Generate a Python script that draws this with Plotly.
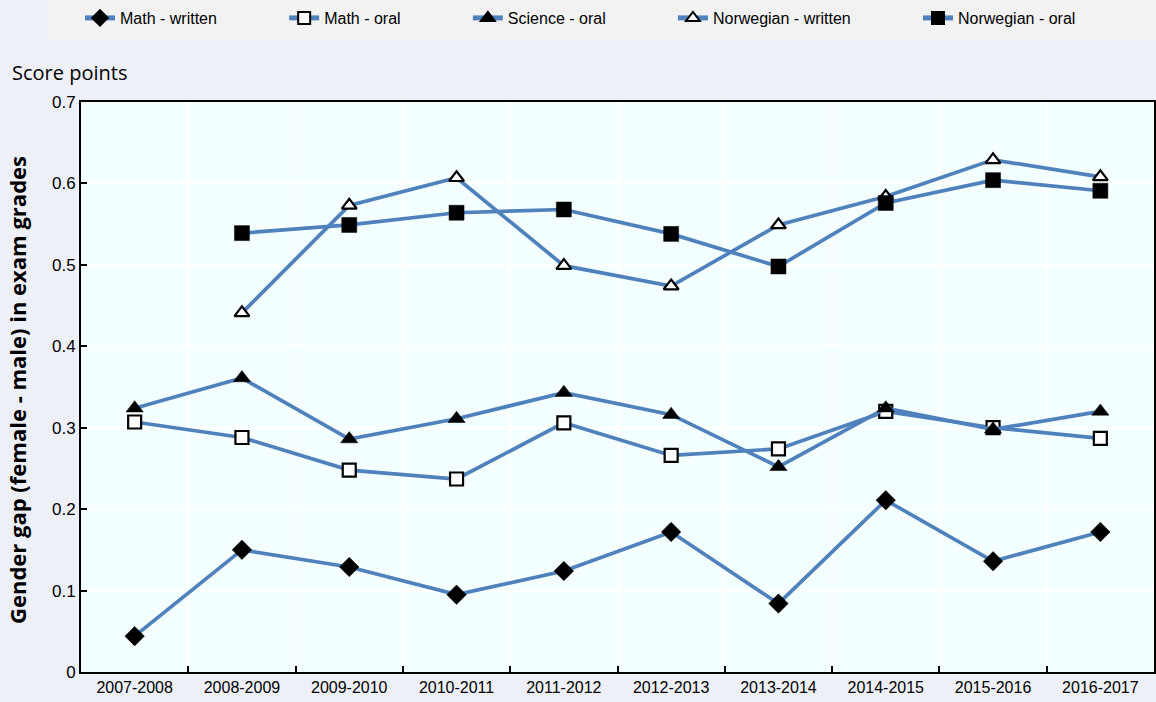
import plotly.graph_objects as go

years = ["2007-2008", "2008-2009", "2009-2010", "2010-2011", "2011-2012",
         "2012-2013", "2013-2014", "2014-2015", "2015-2016", "2016-2017"]

math_written = [0.044, 0.150, 0.129, 0.095, 0.124, 0.172, 0.084, 0.211, 0.136, 0.172]
math_oral = [0.307, 0.288, 0.248, 0.237, 0.306, 0.266, 0.274, 0.320, 0.300, 0.287]
science_oral = [0.324, 0.361, 0.286, 0.311, 0.343, 0.316, 0.252, 0.324, 0.298, 0.320]
norwegian_written = [None, 0.441, 0.573, 0.607, 0.499, 0.474, 0.549, 0.584, 0.629, 0.608]
norwegian_oral = [None, 0.539, 0.549, 0.564, 0.568, 0.538, 0.498, 0.576, 0.604, 0.591]

y_ticks = [0, 0.1, 0.2, 0.3, 0.4, 0.5, 0.6, 0.7]
y_tick_labels = ["0", "0.1", "0.2", "0.3", "0.4", "0.5", "0.6", "0.7"]

LINE = "#4F81BD"
PAD = "\u00a0" * 14

series = [
    ("Math - written", math_written, "diamond", "black", 15),
    ("Math - oral", math_oral, "square", "white", 13),
    ("Science - oral", science_oral, "triangle-up", "black", 15),
    ("Norwegian - written", norwegian_written, "triangle-up", "white", 13),
    ("Norwegian - oral", norwegian_oral, "square", "black", 15),
]

W, H = 1156, 702
L, R, T, B = 81, 2, 102, 30
PW = W - L - R
PH = H - T - B

fig = go.Figure()
for name, vals, sym, fill, size in series:
    fig.add_trace(go.Scatter(
        x=years, y=vals, name=name + PAD, mode="lines+markers",
        line=dict(color=LINE, width=3.7),
        marker=dict(symbol=sym, color=fill, size=size,
                    line=dict(color="black", width=2.2 if fill == "white" else 0.5)),
        connectgaps=False,
    ))

fig.update_layout(
    width=W, height=H,
    paper_bgcolor="#EEF0F8",
    plot_bgcolor="#F4FFFF",
    margin=dict(l=L, r=R, t=T, b=B, autoexpand=False),
    font=dict(family="Liberation Sans, Arial, sans-serif", size=15, color="black"),
    showlegend=True,
    legend=dict(orientation="h", x=(80 - L) / PW, xanchor="left",
                y=1 + (T - 18) / PH, yanchor="middle",
                bgcolor="rgba(0,0,0,0)", font=dict(size=16),
                tracegroupgap=0, itemsizing="constant"),
    shapes=[dict(type="rect", xref="paper", yref="paper",
                 x0=(47 - L) / PW, x1=1.01,
                 y0=1 + (T - 40) / PH, y1=1 + (T + 5) / PH,
                 fillcolor="#F2F2F2", line=dict(width=0), layer="below")],
    annotations=[
        dict(text="Score points", xref="paper", yref="paper",
             x=(10 - L) / PW, y=1 + (T - 72) / PH,
             xanchor="left", yanchor="middle", showarrow=False,
             font=dict(family="Open Sans, sans-serif", size=20)),
        dict(text="<b>Gender gap (female - male) in exam grades</b>",
             xref="paper", yref="paper", textangle=-90,
             x=(17 - L) / PW, y=(H - B - 390) / PH,
             xanchor="center", yanchor="middle", showarrow=False,
             font=dict(family="Open Sans, sans-serif", size=22)),
    ],
)

fig.update_xaxes(
    type="category", range=[-0.5, 9.5], automargin=False,
    tickson="boundaries", ticks="inside", ticklen=6, tickcolor="black", tickwidth=1.5,
    showgrid=True, gridcolor="white", gridwidth=1.5,
    showline=True, linecolor="black", linewidth=2, mirror=True,
    tickfont=dict(size=16),
)
fig.update_yaxes(
    range=[0, 0.7], tickvals=y_ticks, ticktext=y_tick_labels, automargin=False,
    ticks="inside", ticklen=6, tickcolor="black", tickwidth=1.5,
    showgrid=True, gridcolor="white", gridwidth=1.5, zeroline=False,
    showline=True, linecolor="black", linewidth=2, mirror=True,
    tickfont=dict(size=17),
)

fig.write_html("out.html", config={"displayModeBar": False},
               post_script="document.body.style.margin='0';document.body.style.padding='0';")
